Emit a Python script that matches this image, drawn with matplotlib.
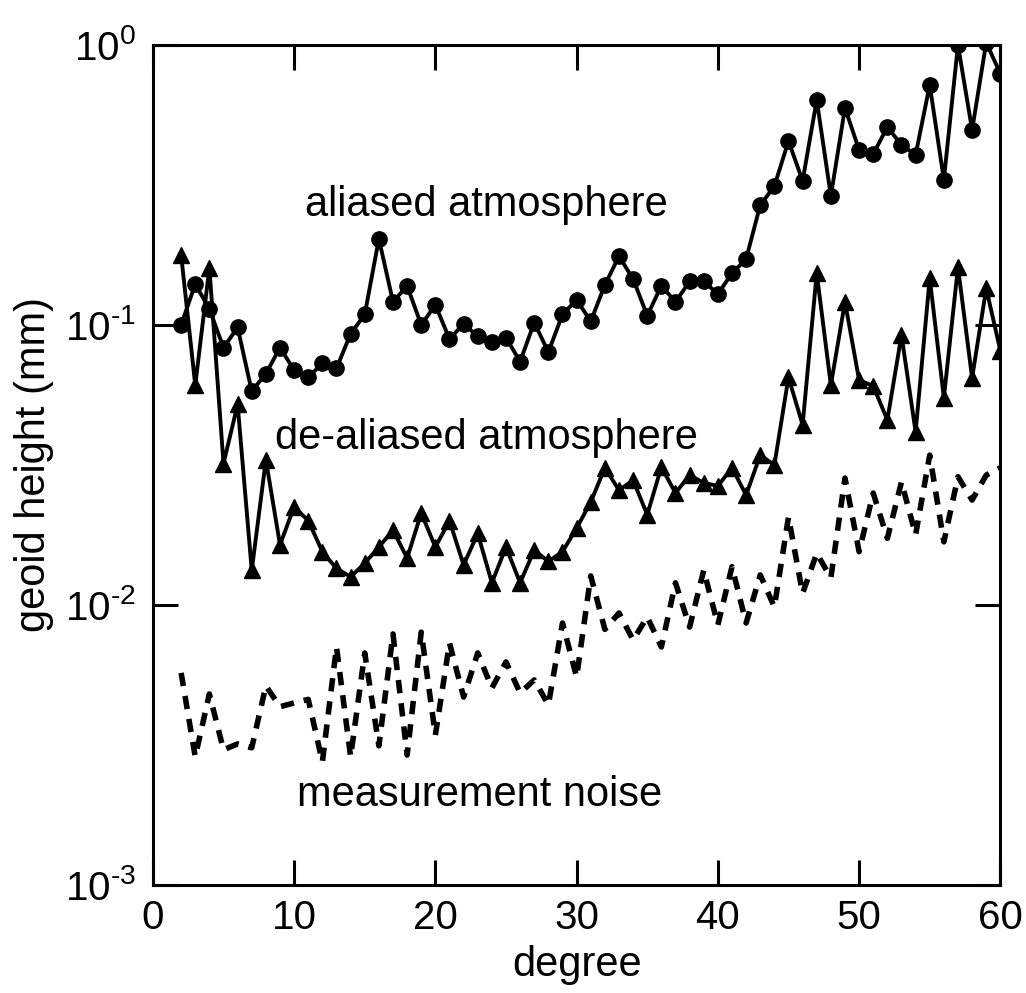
import numpy as np
import matplotlib
matplotlib.use("Agg")
import matplotlib.pyplot as plt

plt.rcParams['font.family'] = ['Liberation Sans', 'DejaVu Sans']
plt.rcParams['mathtext.fontset'] = 'custom'
plt.rcParams['mathtext.rm'] = 'Liberation Sans'
plt.rcParams['mathtext.it'] = 'Liberation Sans'
plt.rcParams['mathtext.bf'] = 'Liberation Sans'

# spherical harmonic degree
degree = np.arange(2, 61)

# aliased atmosphere (circles)
aliased = [0.100, 0.140, 0.114, 0.083, 0.098, 0.058, 0.067, 0.083, 0.069, 0.065,
           0.073, 0.070, 0.093, 0.109, 0.203, 0.121, 0.138, 0.100, 0.118, 0.089,
           0.101, 0.091, 0.087, 0.090, 0.074, 0.102, 0.080, 0.109, 0.123, 0.103,
           0.139, 0.176, 0.146, 0.108, 0.138, 0.121, 0.143, 0.143, 0.129, 0.153,
           0.172, 0.268, 0.313, 0.454, 0.327, 0.636, 0.289, 0.596, 0.422, 0.408,
           0.509, 0.440, 0.405, 0.720, 0.330, 1.000, 0.497, 1.020, 0.790]

# de-aliased atmosphere (triangles)
dealiased = [0.178, 0.061, 0.160, 0.032, 0.052, 0.0133, 0.033, 0.0164, 0.0224, 0.020,
             0.0155, 0.0135, 0.0126, 0.0141, 0.0161, 0.0185, 0.0147, 0.0213, 0.0161, 0.020,
             0.0139, 0.018, 0.012, 0.0161, 0.012, 0.0157, 0.0143, 0.0155, 0.0188, 0.0233,
             0.0309, 0.0257, 0.0279, 0.021, 0.0311, 0.0251, 0.0291, 0.0273, 0.0266, 0.0309,
             0.0247, 0.0343, 0.0316, 0.065, 0.044, 0.153, 0.061, 0.121, 0.0636, 0.0605,
             0.0458, 0.092, 0.0415, 0.147, 0.0549, 0.161, 0.0647, 0.135, 0.081]

# measurement noise (dashed)
noise = [0.00572, 0.00287, 0.00481, 0.00304, 0.00319, 0.00309, 0.00514, 0.00433, 0.00447, 0.00460,
         0.00275, 0.00708, 0.00287, 0.00674, 0.00314, 0.00788, 0.00291, 0.00800, 0.00343, 0.00731,
         0.00469, 0.00674, 0.00505, 0.00626, 0.00485, 0.00540, 0.00440, 0.00862, 0.00553, 0.0127,
         0.00818, 0.00936, 0.00750, 0.00906, 0.00708, 0.0120, 0.00834, 0.0133, 0.00849, 0.0137,
         0.00862, 0.0128, 0.00984, 0.0206, 0.0110, 0.0153, 0.0125, 0.0284, 0.0155, 0.0251,
         0.0173, 0.0275, 0.0178, 0.0343, 0.0168, 0.0287, 0.0237, 0.0291, 0.0309]

fig = plt.figure(figsize=(10.26, 9.93), dpi=100)
ax = fig.add_axes([0.149, 0.1088, 0.826, 0.8459])

ax.plot(degree, aliased, color="black", lw=2.8, marker="o", ms=11)
ax.plot(degree, dealiased, color="black", lw=2.8, marker="^", ms=11)
ax.plot(degree, noise, color="black", lw=4, linestyle=(0, (2.4, 1.8)))

ax.text(23.6, 0.268, "aliased atmosphere", fontsize=30, ha="center", va="center")
ax.text(23.6, 0.0395, "de-aliased atmosphere", fontsize=30, ha="center", va="center")
ax.text(23.1, 0.0021, "measurement noise", fontsize=30, ha="center", va="center")

ax.set_yscale("log")
ax.set_xlim(0, 60)
ax.set_ylim(1e-3, 1e0)
ax.set_xticks([0, 10, 20, 30, 40, 50, 60])
ax.set_yticks([1e-3, 1e-2, 1e-1, 1e0])
ax.set_yticklabels([r"$10^{\text{-3}}$", r"$10^{\text{-2}}$", r"$10^{\text{-1}}$", r"$10^{0}$"])
ax.minorticks_off()
ax.tick_params(which="both", direction="in", length=18, width=2.2,
               top=True, right=True, labelsize=29)
ax.tick_params(axis="x", pad=10)
ax.tick_params(axis="y", pad=12)
for s in ax.spines.values():
    s.set_linewidth(2.2)

ax.set_xlabel("degree", fontsize=30, labelpad=6)
ax.set_ylabel("geoid height (mm)", fontsize=30, labelpad=8)

fig.savefig("out.png", dpi=100)
